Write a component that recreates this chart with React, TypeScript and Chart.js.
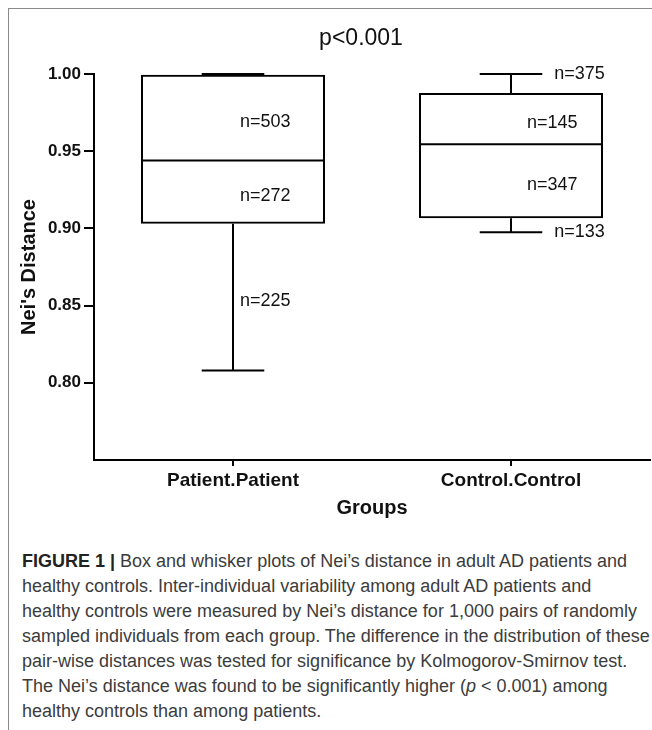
import React, { useEffect, useRef } from "react";
import { Chart, registerables } from "chart.js";

Chart.register(...registerables);

const CATEGORIES = ["Patient.Patient", "Control.Control"];
const WHISKER_MIN = [0.808, 0.8975];
const Q1 = [0.903, 0.9065];
const MEDIAN = [0.944, 0.9545];
const Q3 = [0.9995, 0.9877];
const WHISKER_MAX = [1.0, 1.0];

const N_UPPER_WHISKER = ["", "n=375"];
const N_UPPER_BOX = ["n=503", "n=145"];
const N_LOWER_BOX = ["n=272", "n=347"];
const N_LOWER_WHISKER = ["n=225", "n=133"];

const Y_TICKS = [0.8, 0.85, 0.9, 0.95, 1.0];
const Y_MIN = 0.75;
const Y_MAX = 1.0;
const TITLE = "p<0.001";

const FONT = '"Liberation Sans", Arial, sans-serif';
const LABEL_DX = [7, 16];

const boxPlugin = {
  id: "boxWhisker",
  afterDatasetsDraw(chart: any) {
    const ctx = chart.ctx;
    const ys = chart.scales.y;
    const meta = chart.getDatasetMeta(0);
    ctx.save();
    ctx.strokeStyle = "#000";
    ctx.lineWidth = 2;
    const line = (x1: number, y1: number, x2: number, y2: number) => {
      ctx.beginPath();
      ctx.moveTo(x1, y1);
      ctx.lineTo(x2, y2);
      ctx.stroke();
    };
    meta.data.forEach((bar: any, i: number) => {
      const x = bar.x;
      const w = bar.width;
      const cap = (w * 0.34) / 2;
      const yMin = ys.getPixelForValue(WHISKER_MIN[i]);
      const yQ1 = ys.getPixelForValue(Q1[i]);
      const yMed = ys.getPixelForValue(MEDIAN[i]);
      const yQ3 = ys.getPixelForValue(Q3[i]);
      const yMax = ys.getPixelForValue(WHISKER_MAX[i]);
      line(x - w / 2, yMed, x + w / 2, yMed);
      line(x, yQ3, x, yMax);
      line(x - cap, yMax, x + cap, yMax);
      line(x, yQ1, x, yMin);
      line(x - cap, yMin, x + cap, yMin);

      ctx.font = `18px ${FONT}`;
      ctx.fillStyle = "#111";
      ctx.textAlign = "left";
      ctx.textBaseline = "middle";
      const segs: [string, number, number, number][] = [
        [N_UPPER_WHISKER[i], yQ3, yMax, yMax],
        [N_UPPER_BOX[i], yMed, yQ3, NaN],
        [N_LOWER_BOX[i], yQ1, yMed, NaN],
        [N_LOWER_WHISKER[i], yMin, yQ1, yMin],
      ];
      segs.forEach(([txt, a, b, end]) => {
        if (!txt) return;
        const len = Math.abs(a - b);
        if (!isNaN(end) && len < 40) {
          ctx.fillText(txt, x + cap + 12, end);
        } else {
          ctx.fillText(txt, x + LABEL_DX[i], (a + b) / 2 + 4);
        }
      });
    });
    // title
    const ca = chart.chartArea;
    ctx.font = `23px ${FONT}`;
    ctx.fillStyle = "#111";
    ctx.textAlign = "center";
    ctx.textBaseline = "alphabetic";
    ctx.fillText(TITLE, (ca.left + ca.right) / 2 - 11, 36);
    ctx.restore();
  },
};

export default function App() {
  const ref = useRef<HTMLCanvasElement>(null);
  useEffect(() => {
    if (!ref.current) return;
    const chart = new Chart(ref.current, {
      type: "bar",
      data: {
        labels: CATEGORIES,
        datasets: [
          {
            data: Q1.map((q, i) => [q, Q3[i]]) as any,
            backgroundColor: "rgba(0,0,0,0)",
            borderColor: "#000",
            borderWidth: 2,
            borderSkipped: false,
            categoryPercentage: 0.662,
            barPercentage: 1,
          },
        ],
      },
      options: {
        responsive: false,
        animation: false,
        layout: { padding: { top: 65, right: 2, left: 0, bottom: 0 } },
        plugins: {
          legend: { display: false },
          tooltip: { enabled: false },
          title: { display: false },
        },
        scales: {
          x: {
            type: "category",
            offset: true,
            grid: {
              offset: false,
              drawOnChartArea: false,
              tickLength: 6,
              color: "#000",
              lineWidth: 2,
            },
            border: { color: "#000", width: 2 },
            ticks: {
              color: "#111",
              padding: 3,
              font: { family: FONT, size: 19, weight: "bold" },
            },
            title: {
              display: true,
              text: "Groups",
              color: "#111",
              font: { family: FONT, size: 20, weight: "bold" },
              padding: { top: 0, bottom: 9 },
            },
            afterFit: (s: any) => {
              s.height = 69;
            },
          },
          y: {
            min: Y_MIN,
            max: Y_MAX,
            afterBuildTicks: (s: any) => {
              s.ticks = Y_TICKS.map((v) => ({ value: v }));
            },
            grid: {
              drawOnChartArea: false,
              tickLength: 10,
              color: "#000",
              lineWidth: 2,
            },
            border: { color: "#000", width: 2 },
            ticks: {
              color: "#111",
              padding: 3,
              font: { family: FONT, size: 17, weight: "bold" },
              callback: (v: any) => Number(v).toFixed(2),
            },
            title: {
              display: true,
              text: "Nei's Distance",
              color: "#111",
              font: { family: FONT, size: 20, weight: "bold" },
              padding: { top: 8, bottom: 0 },
            },
            afterFit: (s: any) => {
              s.width = 85;
            },
          },
        },
      },
      plugins: [boxPlugin],
    });
    return () => chart.destroy();
  }, []);

  const capStyle: React.CSSProperties = {
    fontFamily: FONT,
    fontSize: 18,
    lineHeight: "25px",
    color: "#3c3c3c",
    whiteSpace: "nowrap",
    paddingLeft: 13,
    marginTop: 20,
  };

  return (
    <div
      style={{
        position: "absolute",
        top: 8,
        left: 8,
        width: 644,
        height: 722,
        borderTop: "1px solid #8a8a8a",
        borderLeft: "1px solid #8a8a8a",
        boxSizing: "border-box",
        overflow: "hidden",
        background: "#fff",
      }}
    >
      <canvas ref={ref} width={643} height={520} style={{ display: "block" }} />
      <div style={capStyle}>
        <b style={{ color: "#222" }}>FIGURE 1 |</b> Box and whisker plots of Nei’s distance in adult AD patients and
        <br />
        healthy controls. Inter-individual variability among adult AD patients and
        <br />
        healthy controls were measured by Nei’s distance for 1,000 pairs of randomly
        <br />
        sampled individuals from each group. The difference in the distribution of these
        <br />
        pair-wise distances was tested for significance by Kolmogorov-Smirnov test.
        <br />
        The Nei’s distance was found to be significantly higher (<i>p</i> &lt; 0.001) among
        <br />
        healthy controls than among patients.
      </div>
    </div>
  );
}
